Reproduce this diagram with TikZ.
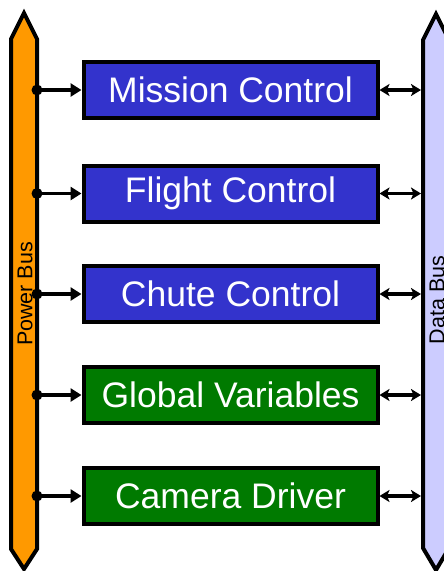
\documentclass[tikz,border=0pt]{standalone}
\usepackage{fontspec}
\setmainfont{Liberation Sans}
\usetikzlibrary{arrows.meta}
\definecolor{modblue}{HTML}{3333CC}
\definecolor{modgreen}{HTML}{007A00}
\definecolor{pwrorange}{HTML}{FF9900}
\definecolor{datalilac}{HTML}{CCCCFF}
\tikzset{
  module/.style={draw=black, line width=4pt, minimum width=294pt, minimum height=56pt,
    inner sep=0pt, text=white, font=\fontsize{35.5}{40}\selectfont},
  bluemod/.style={module, fill=modblue},
  greenmod/.style={module, fill=modgreen},
  bus/.style={draw=black, line width=4pt, line join=miter},
  buslabel/.style={font=\fontsize{21.5}{24}\selectfont, rotate=90, inner sep=0pt},
  feed/.style={line width=3.5pt, -{Triangle[length=11pt,width=13pt]}},
  link/.style={line width=3.5pt, {Stealth[length=10pt,width=12pt,inset=2.5pt]}-{Stealth[length=10pt,width=12pt,inset=2.5pt]}},
  tap/.style={fill=black, circle, inner sep=0pt, minimum size=11pt}
}
\begin{document}
\begin{tikzpicture}[x=1pt, y=-1pt]
  \useasboundingbox[fill=white] (0,0) rectangle (444,571);

  % power bus (left) and data bus (right)
  \draw[bus, fill=pwrorange] (11,39) -- (24,13) -- (37,39) -- (37,549) -- (24,569) -- (11,549) -- cycle;
  \draw[bus, fill=datalilac] (423,40) -- (436,14) -- (449,40) -- (449,548) -- (436,570) -- (423,548) -- cycle;
  \node[buslabel] (pbus) at (25,294) {Power Bus};
  \node[buslabel] (dbus) at (437,300) {Data Bus};

  % software modules
  \node[bluemod]  (m1) at (230.5,90)    {Mission Control};
  \node[bluemod]  (m2) at (230.5,193.5) {Flight Control};
  \node[bluemod]  (m3) at (230.5,294)   {Chute Control};
  \node[greenmod] (m4) at (230.5,395)   {Global Variables};
  \node[greenmod] (m5) at (230.5,496)   {Camera Driver};

  % connections to both buses
  \foreach \i/\y in {1/90, 2/193.5, 3/294, 4/395, 5/496} {
    \node[tap] (p\i) at (37,\y) {};
    \coordinate (d\i) at (421,\y);
    \draw[feed] (p\i.center) -- (m\i.west);
    \draw[link] (m\i.east) -- (d\i);
  }
\end{tikzpicture}
\end{document}
